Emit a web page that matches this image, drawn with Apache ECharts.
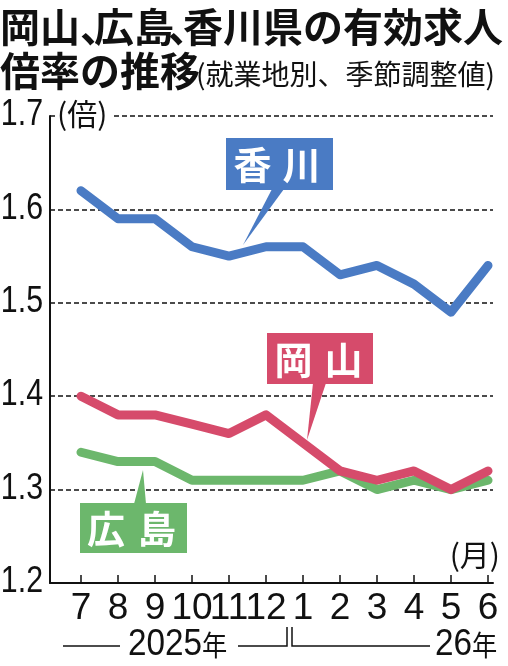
<!DOCTYPE html>
<html><head><meta charset="utf-8">
<script src="https://cdn.jsdelivr.net/npm/echarts@6/dist/echarts.min.js"></script>
<style>html,body{margin:0;padding:0;background:#fff}#c{width:508px;height:666px}</style>
</head><body><div id="c"></div>
<script>
const months = ['7','8','9','10','11','12','1','2','3','4','5','6'];
const kagawa = [1.62,1.59,1.59,1.56,1.55,1.56,1.56,1.53,1.54,1.52,1.49,1.54];
const okayama = [1.40,1.38,1.38,1.37,1.36,1.38,1.35,1.32,1.31,1.32,1.30,1.32];
const hiroshima = [1.34,1.33,1.33,1.31,1.31,1.31,1.31,1.32,1.30,1.31,1.30,1.31];
const yTicks = [1.2,1.3,1.4,1.5,1.6,1.7];

const BLUE='#4a7bc4', RED='#d64b6b', GREEN='#6cb76c';
const NUM="'Liberation Sans',sans-serif";
const JP="'Noto Sans CJK JP',sans-serif";

const chart = echarts.init(document.getElementById('c'), null, {renderer:'canvas'});

function txt(x,y,s,size,opts){
  return Object.assign({type:'text',x:x,y:y,style:Object.assign({text:s,fontSize:size,fontFamily:JP,fill:'#111',verticalAlign:'middle',align:'left'},opts||{})});
}
function callout(color,rect,tri,chars){
  const els=[{type:'polygon',shape:{points:tri},style:{fill:color},z:20},
    {type:'rect',shape:rect,style:{fill:color},z:20}];
  chars.forEach(c=>els.push({type:'text',x:c[0],y:rect.y+rect.height/2+1,z:21,
    style:{text:c[1],fontSize:38,fontWeight:'bold',fontFamily:JP,fill:'#fff',align:'center',verticalAlign:'middle'}}));
  return els;
}

const graphics = [
  txt(0,27,'岡山',40,{fontWeight:'bold'}),
  txt(80,27,'、',40,{fontWeight:'bold'}),
  txt(94,27,'広島',40,{fontWeight:'bold'}),
  txt(168,27,'、',40,{fontWeight:'bold'}),
  txt(183,27,'香川県の有効求人',40,{fontWeight:'bold'}),
  txt(0,71,'倍率の推移',40,{fontWeight:'bold'}),
  txt(196,74,'(就業地別、季節調整値)',28),
  {type:'text',x:55,y:114,z:10,style:{text:'(倍)',fontSize:30,fontFamily:JP,fill:'#111',verticalAlign:'middle',backgroundColor:'#fff',padding:[0,4,0,2]}},
  txt(500,555,'(月)',30,{align:'right'}),
  // year annotation
  {type:'polyline',shape:{points:[[63,646],[120,646]]},style:{stroke:'#111',lineWidth:1.5}},
  {type:'polyline',shape:{points:[[238,646],[287,646],[287,627]]},style:{stroke:'#111',lineWidth:1.5,fill:null}},
  {type:'polyline',shape:{points:[[292,627],[292,646],[430,646]]},style:{stroke:'#111',lineWidth:1.5,fill:null}},
  {type:'text',x:128,y:645,scaleX:0.9,style:{text:'{n|2025}{j|年}',fill:'#111',verticalAlign:'middle',
    rich:{n:{fontSize:37,fontFamily:NUM,fill:'#111'},j:{fontSize:28,fontFamily:JP,fill:'#111'}}}},
  {type:'text',x:435,y:645,scaleX:0.9,style:{text:'{n|26}{j|年}',fill:'#111',verticalAlign:'middle',
    rich:{n:{fontSize:37,fontFamily:NUM,fill:'#111'},j:{fontSize:28,fontFamily:JP,fill:'#111'}}}},
].concat(
  callout(BLUE,{x:226,y:138,width:107,height:52},[[272,189],[284,189],[243,245]],[[252.5,'香'],[301.5,'川']]),
  callout(RED,{x:267,y:333,width:106,height:51},[[313,383],[326,383],[307,440]],[[293.5,'岡'],[343.5,'山']]),
  callout(GREEN,{x:80,y:503,width:107,height:50},[[134,504],[146,504],[143,470]],[[106,'広'],[157,'島']])
);

function lineSeries(data,color,z){
  return {type:'line',xAxisIndex:1,yAxisIndex:1,data:data,symbol:'none',z:z,
    lineStyle:{color:color,width:9,cap:'round',join:'round'},itemStyle:{color:color}};
}

chart.setOption({
  animation:false,
  backgroundColor:'#fff',
  grid:[{left:50,right:15,top:116,bottom:83,containLabel:false,outerBoundsMode:'none'},
        {left:81,right:20,top:116,bottom:83,containLabel:false,outerBoundsMode:'none'}],
  xAxis:[
    {gridIndex:0,type:'value',min:0,max:1,axisLine:{show:true,lineStyle:{color:'#111',width:2}},
      axisTick:{show:false},axisLabel:{show:false},splitLine:{show:false}},
    {gridIndex:1,type:'category',data:months,boundaryGap:false,
      axisLine:{show:false},
      axisTick:{show:true,inside:true,length:8,interval:0,lineStyle:{color:'#111',width:1.5}},
      axisLabel:{interval:0,margin:7,fontSize:37,fontFamily:NUM,color:'#111'},splitLine:{show:false}}
  ],
  yAxis:[
    {gridIndex:0,type:'value',min:1.2,max:1.7,interval:0.1,
      axisLine:{show:true,lineStyle:{color:'#111',width:2}},axisTick:{show:false},
      axisLabel:{show:false},
      splitLine:{show:true,lineStyle:{color:'#111',width:1.5,type:[5,3]}}},
    {gridIndex:1,type:'value',min:1.2,max:1.7,interval:0.1,show:false,splitLine:{show:false}}
  ],
  series:[lineSeries(kagawa,BLUE,3),lineSeries(hiroshima,GREEN,3),lineSeries(okayama,RED,4)],
  graphic:graphics
});

// y tick labels placed through the axis scale, narrowed to match the condensed face
const yLabels = yTicks.map(v=>{
  const py = chart.convertToPixel({yAxisIndex:0}, v);
  return {type:'text',x:43,y:py-1,scaleX:0.82,z:10,
    style:{text:v.toFixed(1),fontSize:37,fontFamily:NUM,fill:'#111',align:'right',verticalAlign:'middle'}};
});
chart.setOption({graphic:graphics.concat(yLabels)});
</script></body></html>
